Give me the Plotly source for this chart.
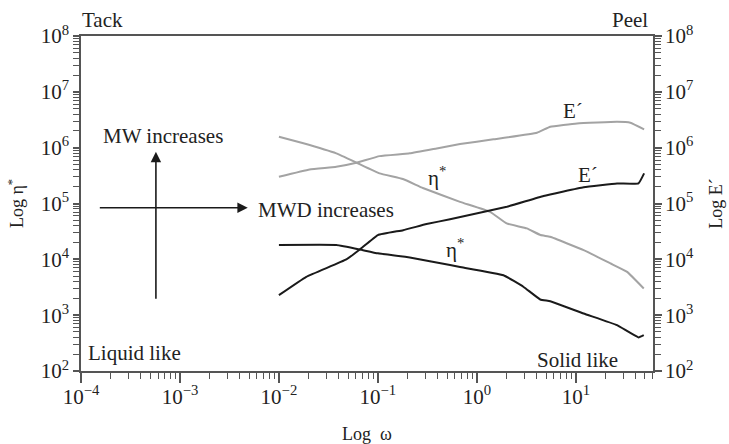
import plotly.graph_objects as go

# ---- data ----
eta_gray_x = [0.01, 0.0173, 0.038, 0.061, 0.104, 0.179, 0.285, 0.676, 1.36, 2.0, 3.2, 4.4, 5.5, 12.0, 22.4, 33.0, 48.6]
eta_gray_y = [1.57e6, 1.21e6, 7.9e5, 5.37e5, 3.46e5, 2.74e5, 1.89e5, 1.07e5, 7.1e4, 4.4e4, 3.58e4, 2.72e4, 2.53e4, 1.46e4, 8.45e3, 5.97e3, 3.01e3]

E_gray_x = [0.01, 0.0204, 0.038, 0.0607, 0.104, 0.21, 0.393, 0.676, 1.47, 4.05, 5.52, 10.3, 26.1, 35.6, 49.0]
E_gray_y = [3.01e5, 4.08e5, 4.55e5, 5.37e5, 7.06e5, 7.91e5, 9.7e5, 1.16e6, 1.41e6, 1.85e6, 2.37e6, 2.72e6, 2.91e6, 2.80e6, 2.13e6]

E_black_x = [0.01, 0.0189, 0.048, 0.0656, 0.1, 0.18, 0.31, 0.536, 2.01, 4.72, 12.0, 26.1, 43.0, 49.0]
E_black_y = [2.28e3, 4.86e3, 9.95e3, 1.5e4, 2.72e4, 3.33e4, 4.28e4, 5.22e4, 8.73e4, 1.36e5, 1.95e5, 2.29e5, 2.29e5, 3.46e5]

eta_black_x = [0.01, 0.038, 0.0656, 0.1, 0.21, 0.536, 0.676, 1.86, 2.97, 4.37, 5.52, 12.0, 26.1, 43.0, 48.6]
eta_black_y = [1.8e4, 1.8e4, 1.5e4, 1.28e4, 1.08e4, 7.9e3, 7.3e3, 5.2e3, 3.2e3, 1.91e3, 1.78e3, 1.07e3, 662, 400, 439]

x_tickvals = [1e-4, 1e-3, 1e-2, 1e-1, 1e0, 1e1]
x_ticktext = ["10<sup>−4</sup>", "10<sup>−3</sup>", "10<sup>−2</sup>", "10<sup>−1</sup>", "10<sup>0</sup>", "10<sup>1</sup>"]
y_tickvals = [1e2, 1e3, 1e4, 1e5, 1e6, 1e7, 1e8]
y_ticktext = ["10<sup>2</sup>", "10<sup>3</sup>", "10<sup>4</sup>", "10<sup>5</sup>", "10<sup>6</sup>", "10<sup>7</sup>", "10<sup>8</sup>"]

# minor tick positions (digits 2..9 of every decade)
x_minor = [d * t for t in x_tickvals for d in range(2, 10) if d * t <= 60]
y_minor = [d * t for t in y_tickvals[:-1] for d in range(2, 10)]

GRAY = "#a3a3a3"
BLACK = "#1a1a1a"
AXIS = "#555555"
FONT = "Liberation Serif"
X_RANGE = [-4, 1.78]
Y_RANGE = [2, 8]

fig = go.Figure()
for xs, ys, col in [(eta_gray_x, eta_gray_y, GRAY), (E_gray_x, E_gray_y, GRAY),
                    (E_black_x, E_black_y, BLACK), (eta_black_x, eta_black_y, BLACK)]:
    fig.add_trace(go.Scatter(x=xs, y=ys, mode="lines",
                             line=dict(color=col, width=2, shape="spline", smoothing=0.3),
                             showlegend=False, hoverinfo="skip"))
# invisible traces so that the helper axes are drawn
for xa, ya in [("x", "y2"), ("x2", "y"), ("x", "y3"), ("x", "y4")]:
    fig.add_trace(go.Scatter(x=[1e-3], y=[1e3], xaxis=xa, yaxis=ya, mode="markers",
                             marker=dict(opacity=0), showlegend=False, hoverinfo="skip"))

# main axes carry labels plus every (major + minor) tick at the short length
axis_common = dict(type="log", showgrid=False, zeroline=False, showline=True, automargin=False,
                   linecolor=AXIS, linewidth=1.5, ticks="outside", tickcolor=AXIS, tickwidth=1.2,
                   tickfont=dict(family=FONT, size=21, color="#222"), tickmode="array")
# helper axes add the longer major ticks
major_common = dict(type="log", showgrid=False, zeroline=False, showline=False, automargin=False,
                    ticks="outside", tickcolor=AXIS, tickwidth=1.5, showticklabels=False,
                    tickmode="array", anchor="free")

x_all_vals = x_tickvals + x_minor
x_all_text = x_ticktext + [""] * len(x_minor)
y_all_vals = y_tickvals + y_minor
y_all_text = y_ticktext + [""] * len(y_minor)

fig.update_layout(
    width=729, height=444,
    margin=dict(l=81, r=76, t=36, b=73),
    plot_bgcolor="white", paper_bgcolor="white",
    font=dict(family=FONT, color="#222"),
    xaxis=dict(**axis_common, range=X_RANGE, mirror=True,
               tickvals=x_all_vals, ticktext=x_all_text, ticklen=6,
               title=dict(text="Log  ω", font=dict(family=FONT, size=18), standoff=22)),
    xaxis2=dict(**major_common, range=X_RANGE, overlaying="x", side="bottom", position=0,
                tickvals=x_tickvals, ticklen=11),
    yaxis=dict(**axis_common, range=Y_RANGE,
               tickvals=y_all_vals, ticktext=y_all_text, ticklen=6,
               title=dict(text="Log η<sup>*</sup>", font=dict(family=FONT, size=18), standoff=12)),
    yaxis2=dict(**axis_common, range=Y_RANGE, overlaying="y", side="right",
                tickvals=y_all_vals, ticktext=y_all_text, ticklen=6,
                title=dict(text="Log E´", font=dict(family=FONT, size=18), standoff=16)),
    yaxis3=dict(**major_common, range=Y_RANGE, overlaying="y", side="left", position=0,
                tickvals=y_tickvals, ticklen=8),
    yaxis4=dict(**major_common, range=Y_RANGE, overlaying="y", side="right", position=1,
                tickvals=y_tickvals, ticklen=8),
)

ann_font = dict(family=FONT, size=21, color="#222")
# curve labels (data coordinates, log10 units)
for txt, lx, ly in [("E´", 0.975, 6.656), ("E´", 1.127, 5.509),
                    ("η<sup>*</sup>", -0.403, 5.491), ("η<sup>*</sup>", -0.221, 4.201)]:
    fig.add_annotation(x=lx, y=ly, xref="x", yref="y", text=txt, showarrow=False, font=ann_font)

# corner / region labels
fig.add_annotation(x=-0.002, y=1.048, xref="paper", yref="paper", text="Tack", showarrow=False,
                   xanchor="left", yanchor="middle", font=ann_font)
fig.add_annotation(x=0.995, y=1.048, xref="paper", yref="paper", text="Peel", showarrow=False,
                   xanchor="right", yanchor="middle", font=ann_font)
fig.add_annotation(x=0.009, y=0.053, xref="paper", yref="paper", text="Liquid like", showarrow=False,
                   xanchor="left", yanchor="middle", font=ann_font)
fig.add_annotation(x=0.794, y=0.033, xref="paper", yref="paper", text="Solid like", showarrow=False,
                   xanchor="left", yanchor="middle", font=ann_font)
fig.add_annotation(x=0.144, y=0.701, xref="paper", yref="paper", text="MW increases", showarrow=False,
                   xanchor="center", yanchor="middle", font=ann_font)
fig.add_annotation(x=0.3055, y=0.4806, xref="paper", yref="paper", text="MWD increases", showarrow=False,
                   xanchor="left", yanchor="middle", font=ann_font)

# arrows
fig.add_annotation(x=-3.243, y=5.927, ax=-3.243, ay=3.269, xref="x", yref="y", axref="x", ayref="y",
                   text="", showarrow=True, arrowhead=2, arrowsize=1.3, arrowwidth=1.6, arrowcolor=BLACK)
fig.add_annotation(x=-2.315, y=4.923, ax=-3.825, ay=4.923, xref="x", yref="y", axref="x", ayref="y",
                   text="", showarrow=True, arrowhead=2, arrowsize=1.3, arrowwidth=1.6, arrowcolor=BLACK)

fig.write_html("out.html")
